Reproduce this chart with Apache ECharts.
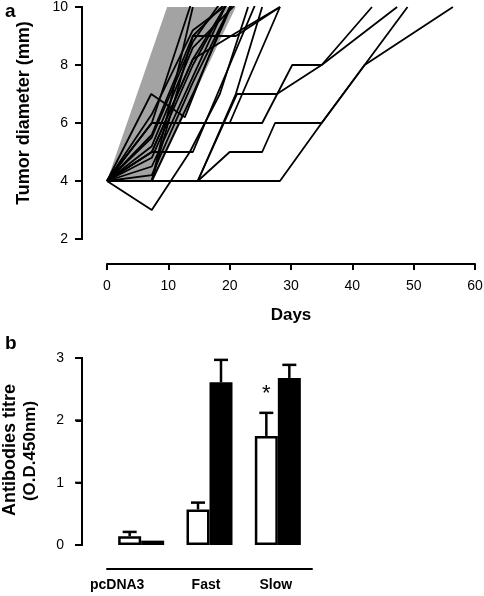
<!DOCTYPE html>
<html>
<head>
<meta charset="utf-8">
<script src="https://cdn.jsdelivr.net/npm/echarts@6/dist/echarts.min.js"></script>
<style>
html,body{margin:0;padding:0;background:#fff;}
#chart{width:484px;height:596px;}
</style>
</head>
<body>
<div id="chart"></div>
<script>
// ---------- Panel a: tumour growth (day, diameter mm) ----------
const dayTicks = [0, 10, 20, 30, 40, 50, 60];
const diameterTicks = [2, 4, 6, 8, 10];
const shadeDays = [0, 9.8, 21, 7.5];
const shadeMm = [4, 10, 10, 4];

const mouse01 = [[0,4],[7.3,4.5],[14,7.6],[21,10.8]];
const mouse02 = [[0,4],[7.3,5],[14,8.2],[21,10.6]];
const mouse03 = [[0,4],[7.3,5.5],[14,8.8],[21,10.9]];
const mouse04 = [[0,4],[7.3,6],[14,10.3]];
const mouse05 = [[0,4],[7.3,4.2],[14,7.4],[21,10.4]];
const mouse06 = [[0,4],[7.3,5.2],[14,8.6],[21,10.1]];
const mouse07 = [[0,4],[7.3,4.8],[14,8],[21,10.7]];
const mouse08 = [[0,4],[7.3,4],[14,9],[21,9],[28.2,10]];
const mouse09 = [[0,4],[7.3,4],[14,7],[21,10.4]];
const mouse10 = [[0,4],[7.3,5],[14,5],[21,8.5],[25,10.5]];
const mouse11 = [[0,4],[7.3,3],[13.5,5],[18.4,7],[23,10]];
const mouse12 = [[0,4],[7.3,6],[25.3,6],[30.2,8],[35,8],[43.2,10]];
const mouse13 = [[0,4],[28.2,4],[35,6],[42,8],[49,10]];
const mouse14 = [[0,4],[14.8,4],[20,5],[25.3,5],[27.4,6],[35,6],[42,8],[56.4,10]];
const mouse15 = [[0,4],[14.8,4],[21.2,7],[27.7,7],[35,8],[47.3,10]];
const mouse16 = [[0,4],[14.8,4],[21,7],[25.3,10]];
const mouse17 = [[0,4],[7.3,6],[20,6],[28.2,10]];
const mouse18 = [[0,4],[7.2,7],[12.7,6.2],[17,8.5],[21,10.5]];
const mouse19 = [[0,4],[7.3,5],[14,8.2],[21,9.1],[28.2,10]];
const mouse20 = [[0,4],[7.3,5.6],[14,9],[21,10.5]];
const mouse21 = [[0,4],[7.3,4],[14,10]];
const mouse22 = [[0,4],[7.3,6.3],[14,9.2],[21,10.3]];
const mice = [mouse01,mouse02,mouse03,mouse04,mouse05,mouse06,mouse07,mouse08,mouse09,mouse10,
              mouse11,mouse12,mouse13,mouse14,mouse15,mouse16,mouse17,mouse18,mouse19,mouse20,mouse21,mouse22];

// ---------- Panel b: antibody titre ----------
const groups = ['pcDNA3', 'Fast', 'Slow'];
const whiteMeans = [0.14, 0.57, 1.75];
const whiteErrTop = [0.21, 0.68, 2.12];
const blackMeans = [0.07, 2.61, 2.68];
const blackErrTop = [0.07, 2.97, 2.89];
const starGroup = 'Slow';
const starValue = 2.42;
const titreTicks = [0, 1, 2, 3];

const BAR_W = 23;
const Y_OFFSET = 25;
const GRID_A = {left: 107, top: 7, width: 368, height: 232};
const GRID_B = {left: 107, top: 358, width: 205, height: 187};
const FONT = '"Liberation Sans", Arial, sans-serif';

const chart = echarts.init(document.getElementById('chart'), null, {renderer: 'canvas'});

const lineSeries = mice.map((m, i) => ({
  name: 'mouse' + (i + 1),
  type: 'line',
  xAxisIndex: 0, yAxisIndex: 0,
  data: m,
  showSymbol: false,
  symbol: 'none',
  clip: true,
  silent: true,
  z: 3,
  lineStyle: {color: '#000', width: 1.8},
  animation: false
}));

const shadeSeries = {
  type: 'custom',
  xAxisIndex: 0, yAxisIndex: 0,
  data: [[0, 4]],
  silent: true,
  z: 1,
  renderItem: function (params, api) {
    const pts = shadeDays.map((d, i) => api.coord([d, shadeMm[i]]));
    return {type: 'polygon', shape: {points: pts}, style: {fill: '#a3a3a3', stroke: null}};
  }
};

function errData(means, tops, side) {
  return groups.map((g, i) => [i, tops[i], means[i], side]);
}

const errSeries = {
  type: 'custom',
  xAxisIndex: 1, yAxisIndex: 1,
  data: errData(whiteMeans, whiteErrTop, -1).concat(errData(blackMeans, blackErrTop, 1)),
  silent: true,
  z: 5,
  renderItem: function (params, api) {
    const top = api.value(1), base = api.value(2), side = api.value(3);
    if (top <= base) return {type: 'group', children: []};
    const p = api.coord([api.value(0), top]);
    const q = api.coord([api.value(0), base]);
    const x = p[0] + side * BAR_W / 2;
    const st = {stroke: '#000', lineWidth: 2.5};
    return {type: 'group', children: [
      {type: 'line', shape: {x1: x, y1: q[1], x2: x, y2: p[1]}, style: st},
      {type: 'line', shape: {x1: x - 7, y1: p[1], x2: x + 7, y2: p[1]}, style: st}
    ]};
  }
};

const starSeries = {
  type: 'custom',
  xAxisIndex: 1, yAxisIndex: 1,
  data: [[groups.indexOf(starGroup), starValue]],
  silent: true,
  z: 6,
  renderItem: function (params, api) {
    const p = api.coord([api.value(0), api.value(1)]);
    return {type: 'text', x: p[0] - BAR_W / 2, y: p[1],
      style: {text: '*', font: '22px ' + FONT, fill: '#000', align: 'center', verticalAlign: 'middle'}};
  }
};

const axisTextStyle = {color: '#000', fontSize: 14, fontFamily: FONT};
function mkLine() { return {show: true, onZero: false, lineStyle: {color: '#000', width: 2}}; }
function mkTick() { return {show: true, inside: false, length: 6, lineStyle: {color: '#000', width: 2}}; }

const titleGraphics = [
  {type: 'text', left: 5, top: 2, style: {text: 'a', font: 'bold 19px ' + FONT, fill: '#000'}},
  {type: 'text', left: 5, top: 334, style: {text: 'b', font: 'bold 19px ' + FONT, fill: '#000'}},
  {type: 'text', x: 24, y: 113, rotation: Math.PI / 2,
    style: {text: 'Tumor diameter (mm)', font: 'bold 18px ' + FONT, fill: '#000', align: 'center', verticalAlign: 'middle'}},
  {type: 'text', x: 291, y: 315,
    style: {text: 'Days', font: 'bold 17px ' + FONT, fill: '#000', align: 'center', verticalAlign: 'middle'}},
  {type: 'text', x: 10, y: 450, rotation: Math.PI / 2,
    style: {text: 'Antibodies titre', font: 'bold 18px ' + FONT, fill: '#000', align: 'center', verticalAlign: 'middle'}},
  {type: 'text', x: 30, y: 451, rotation: Math.PI / 2,
    style: {text: '(O.D.450nm)', font: 'bold 17px ' + FONT, fill: '#000', align: 'center', verticalAlign: 'middle'}}
];

const option = {
  animation: false,
  backgroundColor: '#fff',
  grid: [
    Object.assign({outerBoundsMode: 'none'}, GRID_A),
    Object.assign({outerBoundsMode: 'none'}, GRID_B)
  ],
  xAxis: [
    {
      type: 'value', gridIndex: 0, min: dayTicks[0], max: dayTicks[dayTicks.length - 1], interval: 10,
      offset: 25, position: 'bottom',
      axisLine: mkLine(),
      axisTick: mkTick(),
      splitLine: {show: false},
      axisLabel: Object.assign({margin: 15}, axisTextStyle)
    },
    {
      type: 'category', gridIndex: 1, data: groups.map((g, i) => ({
        value: g,
        textStyle: {padding: [0, [48, 7, 4][i], 0, 0]}
      })),
      offset: 24, position: 'bottom',
      axisLine: mkLine(),
      axisTick: {show: false},
      splitLine: {show: false},
      axisLabel: Object.assign({margin: 9, fontWeight: 'bold', interval: 0}, axisTextStyle)
    }
  ],
  yAxis: [
    {
      type: 'value', gridIndex: 0, min: diameterTicks[0], max: diameterTicks[diameterTicks.length - 1], interval: 2,
      offset: Y_OFFSET, position: 'left',
      axisLine: mkLine(),
      axisTick: mkTick(),
      splitLine: {show: false},
      axisLabel: Object.assign({margin: 14}, axisTextStyle)
    },
    {
      type: 'value', gridIndex: 1, min: titreTicks[0], max: titreTicks[titreTicks.length - 1], interval: 1,
      offset: Y_OFFSET, position: 'left',
      axisLine: mkLine(),
      axisTick: mkTick(),
      splitLine: {show: false},
      axisLabel: Object.assign({margin: 18}, axisTextStyle)
    }
  ],
  series: [shadeSeries].concat(lineSeries).concat([
    {
      name: 'white', type: 'bar', xAxisIndex: 1, yAxisIndex: 1, data: whiteMeans,
      barWidth: BAR_W, barGap: '0%', silent: true, z: 4,
      itemStyle: {color: '#fff', borderColor: '#000', borderWidth: 2.5}
    },
    {
      name: 'black', type: 'bar', xAxisIndex: 1, yAxisIndex: 1, data: blackMeans,
      barWidth: BAR_W, barGap: '0%', silent: true, z: 4,
      itemStyle: {color: '#000', borderColor: '#000', borderWidth: 2.5}
    },
    errSeries,
    starSeries
  ]),
  graphic: titleGraphics
};

chart.setOption(option);

// Extra detached y-axis lines/ticks on a top layer: x from the grid layout, y from the axis scale.
function yPix(finderIdx, xRef, t, grid, ticks) {
  let p = null;
  try { p = chart.convertToPixel({xAxisIndex: finderIdx, yAxisIndex: finderIdx}, [xRef, t]); } catch (e) { p = null; }
  if (p && isFinite(p[1])) return p[1];
  const lo = ticks[0], hi = ticks[ticks.length - 1];
  return grid.top + grid.height * (hi - t) / (hi - lo);
}
function axisRects(finderIdx, xRef, ticks, grid) {
  const x = grid.left - Y_OFFSET;
  const yTop = yPix(finderIdx, xRef, ticks[ticks.length - 1], grid, ticks);
  const yBot = yPix(finderIdx, xRef, ticks[0], grid, ticks);
  const els = [{type: 'rect', zlevel: 5, z: 100, silent: true,
    shape: {x: x - 1, y: yTop - 1, width: 2, height: yBot - yTop + 2}, style: {fill: '#000'}}];
  ticks.forEach(t => {
    const y = yPix(finderIdx, xRef, t, grid, ticks);
    els.push({type: 'rect', zlevel: 5, z: 100, silent: true,
      shape: {x: x - 7, y: y - 1, width: 7, height: 2}, style: {fill: '#000'}});
  });
  return els;
}

chart.setOption({
  graphic: titleGraphics
    .concat(axisRects(0, dayTicks[0], diameterTicks, GRID_A))
    .concat(axisRects(1, groups[0], titreTicks, GRID_B))
});
</script>
</body>
</html>
